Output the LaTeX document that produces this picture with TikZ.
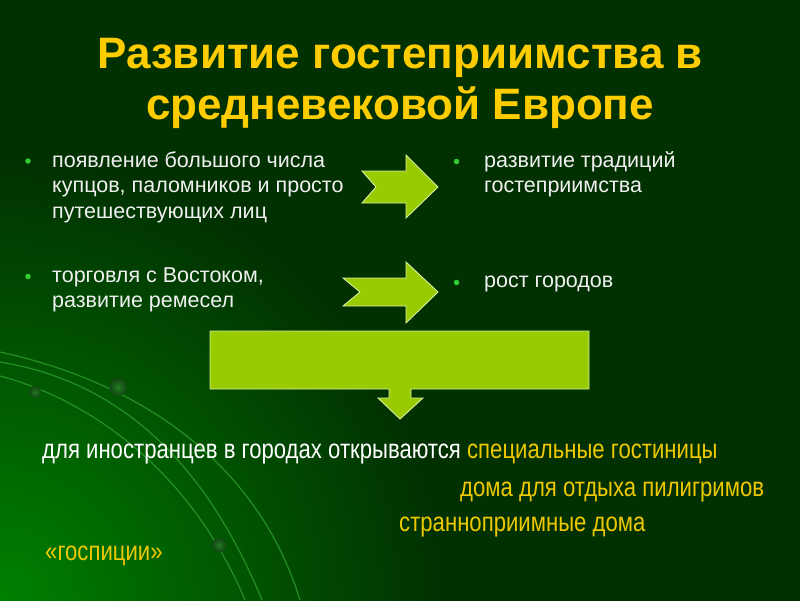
\documentclass[tikz,border=0pt]{standalone}
\usepackage{fontspec}
\setmainfont{Liberation Sans}
\newfontfamily\narrowfont[FakeStretch=0.82]{Liberation Sans}
\definecolor{cBg}  {HTML}{013101}
\definecolor{cGlow}{HTML}{008000}
\definecolor{cGold}{HTML}{FFCC00}
\definecolor{cNote}{HTML}{EEC800}
\definecolor{cArw} {HTML}{99CC00}
\definecolor{cEdge}{HTML}{D4F0A0}
\definecolor{cDot} {HTML}{33CC33}
\definecolor{cSwl} {HTML}{2A9A2A}
\tikzset{
  ttl/.style   ={font=\fontsize{44}{51}\selectfont\bfseries,text=cGold,align=center,inner sep=0pt},
  itm/.style   ={font=\fontsize{21.5}{25.5}\selectfont,text=white!94!black,align=left,
                 inner sep=0pt,anchor=base west},
  bul/.style   ={circle,fill=cDot,inner sep=0pt,minimum size=5.5pt},
  blkarw/.style={fill=cArw,draw=cEdge,line width=0.9pt,line join=miter},
  note/.style  ={font=\narrowfont\fontsize{27}{30}\selectfont,inner sep=0pt,anchor=base west},
  swirl/.style ={draw=cSwl,line width=1.2pt,opacity=0.85},
  knob/.style  ={inner color=cSwl!80!black,outer color=cSwl!45!black},
}

\begin{document}
\begin{tikzpicture}[x=1pt,y=-1pt]
\useasboundingbox (0,0) rectangle (800,600);
% background with glow in the lower left corner
\fill[cBg] (-2,-2) rectangle (802,602);
\begin{scope}
  \clip (-2,-2) rectangle (802,602);
  \shade[inner color=cGlow,outer color=cBg] (0,600) circle (440);
  \draw[swirl] (0,352) .. controls (150,385) and (260,470) .. (300,600);
  \draw[swirl] (0,362) .. controls (110,380) and (200,450) .. (262,600);
  \draw[swirl] (0,376) .. controls (90,400) and (190,470) .. (245,600);
  \shade[knob] (35,392) circle (6);
  \shade[knob] (118,387) circle (9);
  \shade[knob] (219,545) circle (7);
\end{scope}

% base anchor = last line
\node[ttl,anchor=base] (title) at (400,119)
  {Развитие гостеприимства в\\средневековой Европе};

% causes
\node[bul] (d1) at (28,161) {};
\node[itm] (t1) at (52,218)
  {появление большого числа\\купцов, паломников и просто\\путешествующих лиц};
\node[bul] (d2) at (28,276.5) {};
\node[itm] (t2) at (52,307.5)
  {торговля с Востоком,\\развитие ремесел};

% results
\node[bul] (d3) at (456.5,161.5) {};
\node[itm] (t3) at (484,192.5) {развитие традиций\\гостеприимства};
\node[bul] (d4) at (456.5,282.5) {};
\node[itm] (t4) at (484,287) {рост городов};

% block arrows
\draw[blkarw] (362,171) -- (406,171) -- (406,155) -- (438,187) -- (406,218)
  -- (406,203) -- (362,203) -- (376,187) -- cycle;
\draw[blkarw] (343,278) -- (406,278) -- (406,262) -- (438,292) -- (406,323)
  -- (406,306) -- (343,306) -- (360,292) -- cycle;
\draw[blkarw] (210,331) -- (589,331) -- (589,389) -- (411,389) -- (411,398)
  -- (423,398) -- (400,419) -- (378,398) -- (389,398) -- (389,389)
  -- (210,389) -- cycle;

% consequences
\node[note,text=white] (n1) at (42,458)
  {для иностранцев в городах открываются \textcolor{cNote}{специальные гостиницы}};
\node[note,text=cNote] (n2) at (460,496) {дома для отдыха пилигримов};
\node[note,text=cNote] (n3) at (399,531) {странноприимные дома};
\node[note,text=cNote] (n4) at (45,560) {«госпиции»};
\end{tikzpicture}
\end{document}
